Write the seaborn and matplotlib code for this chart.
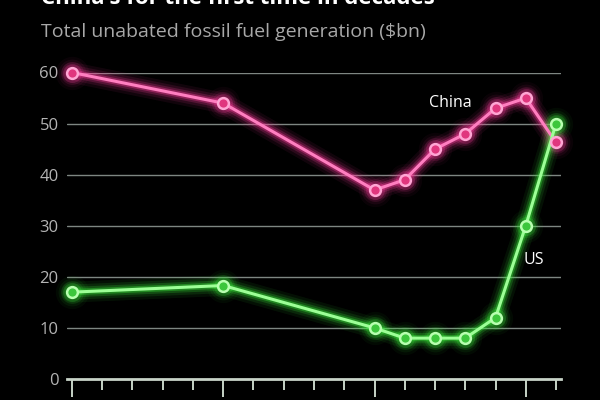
import matplotlib
matplotlib.use("Agg")
import matplotlib.pyplot as plt
import seaborn as sns
import pandas as pd
import numpy as np

# ---- data ----
years = list(range(2010, 2027))
point_years = [2010, 2015, 2020, 2021, 2022, 2023, 2024, 2025, 2026]
china = [60, 54, 37, 39, 45, 48, 53, 55, 46.3]
us = [17, 18.3, 10, 8, 8, 8, 12, 30, 50]
y_ticks = [0, 10, 20, 30, 40, 50, 60]
title = "China's for the first time in decades"
subtitle = "Total unabated fossil fuel generation ($bn)"

sns.set_theme(style="dark")
plt.rcParams['font.family'] = ['Open Sans', 'DejaVu Sans']

fig = plt.figure(figsize=(6, 4), dpi=100, facecolor="black")
W, H = 600, 400
x0px, x1px = 67, 561
y0px, y60px = 379, 72.5
ax = fig.add_axes([x0px / W, (H - y0px) / H, (x1px - x0px) / W, (y0px - y60px) / H])
ax.set_facecolor("black")

df_c = pd.DataFrame({"year": point_years, "value": china})
df_u = pd.DataFrame({"year": point_years, "value": us})

series = [
    (df_c, "#ff3d9e", "#ff7ec0", "#e0367e", "#ffa6d4"),
    (df_u, "#3cf03c", "#9cff96", "#3cc63c", "#b8ffb0"),
]

# grid lines
for t in y_ticks[1:]:
    ax.axhline(t, color="#7e8682", lw=1.0, zorder=1)

for df, glow, core, mfill, medge in series:
    # glow layers
    for lw, a in [(15, 0.07), (11, 0.11), (7.5, 0.20), (4.6, 0.35)]:
        sns.lineplot(data=df, x="year", y="value", ax=ax, color=glow,
                     linewidth=lw, alpha=a, zorder=2, clip_on=False)
        ax.scatter(df["year"], df["value"], s=(lw + 9) ** 2, color=glow,
                   alpha=a * 0.6, zorder=2, clip_on=False, linewidths=0)
    sns.lineplot(data=df, x="year", y="value", ax=ax, color=core,
                 linewidth=2.2, zorder=3, clip_on=False)
    sns.scatterplot(data=df, x="year", y="value", ax=ax, s=60, color=mfill,
                    edgecolor=medge, linewidth=1.8, zorder=4, clip_on=False)

ax.set_xlim(years[0] - 0.165, years[-1] + 0.165)
ax.set_ylim(0, 60)
ax.set_yticks(y_ticks)
ax.set_yticklabels([str(t) for t in y_ticks], color="#b4b4b4", fontsize=12)
ax.tick_params(axis="y", length=0, pad=6, left=False)
ax.set_xticks([y for y in years if (y - years[0]) % 5 == 0], minor=False)
ax.set_xticks([y for y in years if (y - years[0]) % 5 != 0], minor=True)
ax.tick_params(axis="x", which="major", bottom=True, direction="out", length=13,
               width=1.4, color="#c8d4c8", labelbottom=False)
ax.tick_params(axis="x", which="minor", bottom=True, direction="out", length=8,
               width=1.4, color="#c8d4c8", labelbottom=False)
ax.set_xlabel("")
ax.set_ylabel("")
ax.grid(False)
for s in ["top", "right", "left"]:
    ax.spines[s].set_visible(False)
ax.spines["bottom"].set_color("#c8d4c8")
ax.spines["bottom"].set_linewidth(2)
ax.spines["bottom"].set_zorder(5)

ax.text(2022.5, 54.0, "China", color="white", fontsize=11.5, ha="center", va="center")
ax.text(2025.25, 23.3, "US", color="white", fontsize=11.5, ha="center", va="center")

fig.text(41 / W, 1 - 4 / H, title, color="white", fontsize=16, fontweight="bold",
         ha="left", va="baseline")
fig.text(41 / W, 1 - 32 / H, subtitle, color="#a8a8a8", fontsize=14,
         ha="left", va="center")

fig.savefig("out.png", dpi=100, facecolor="black")
